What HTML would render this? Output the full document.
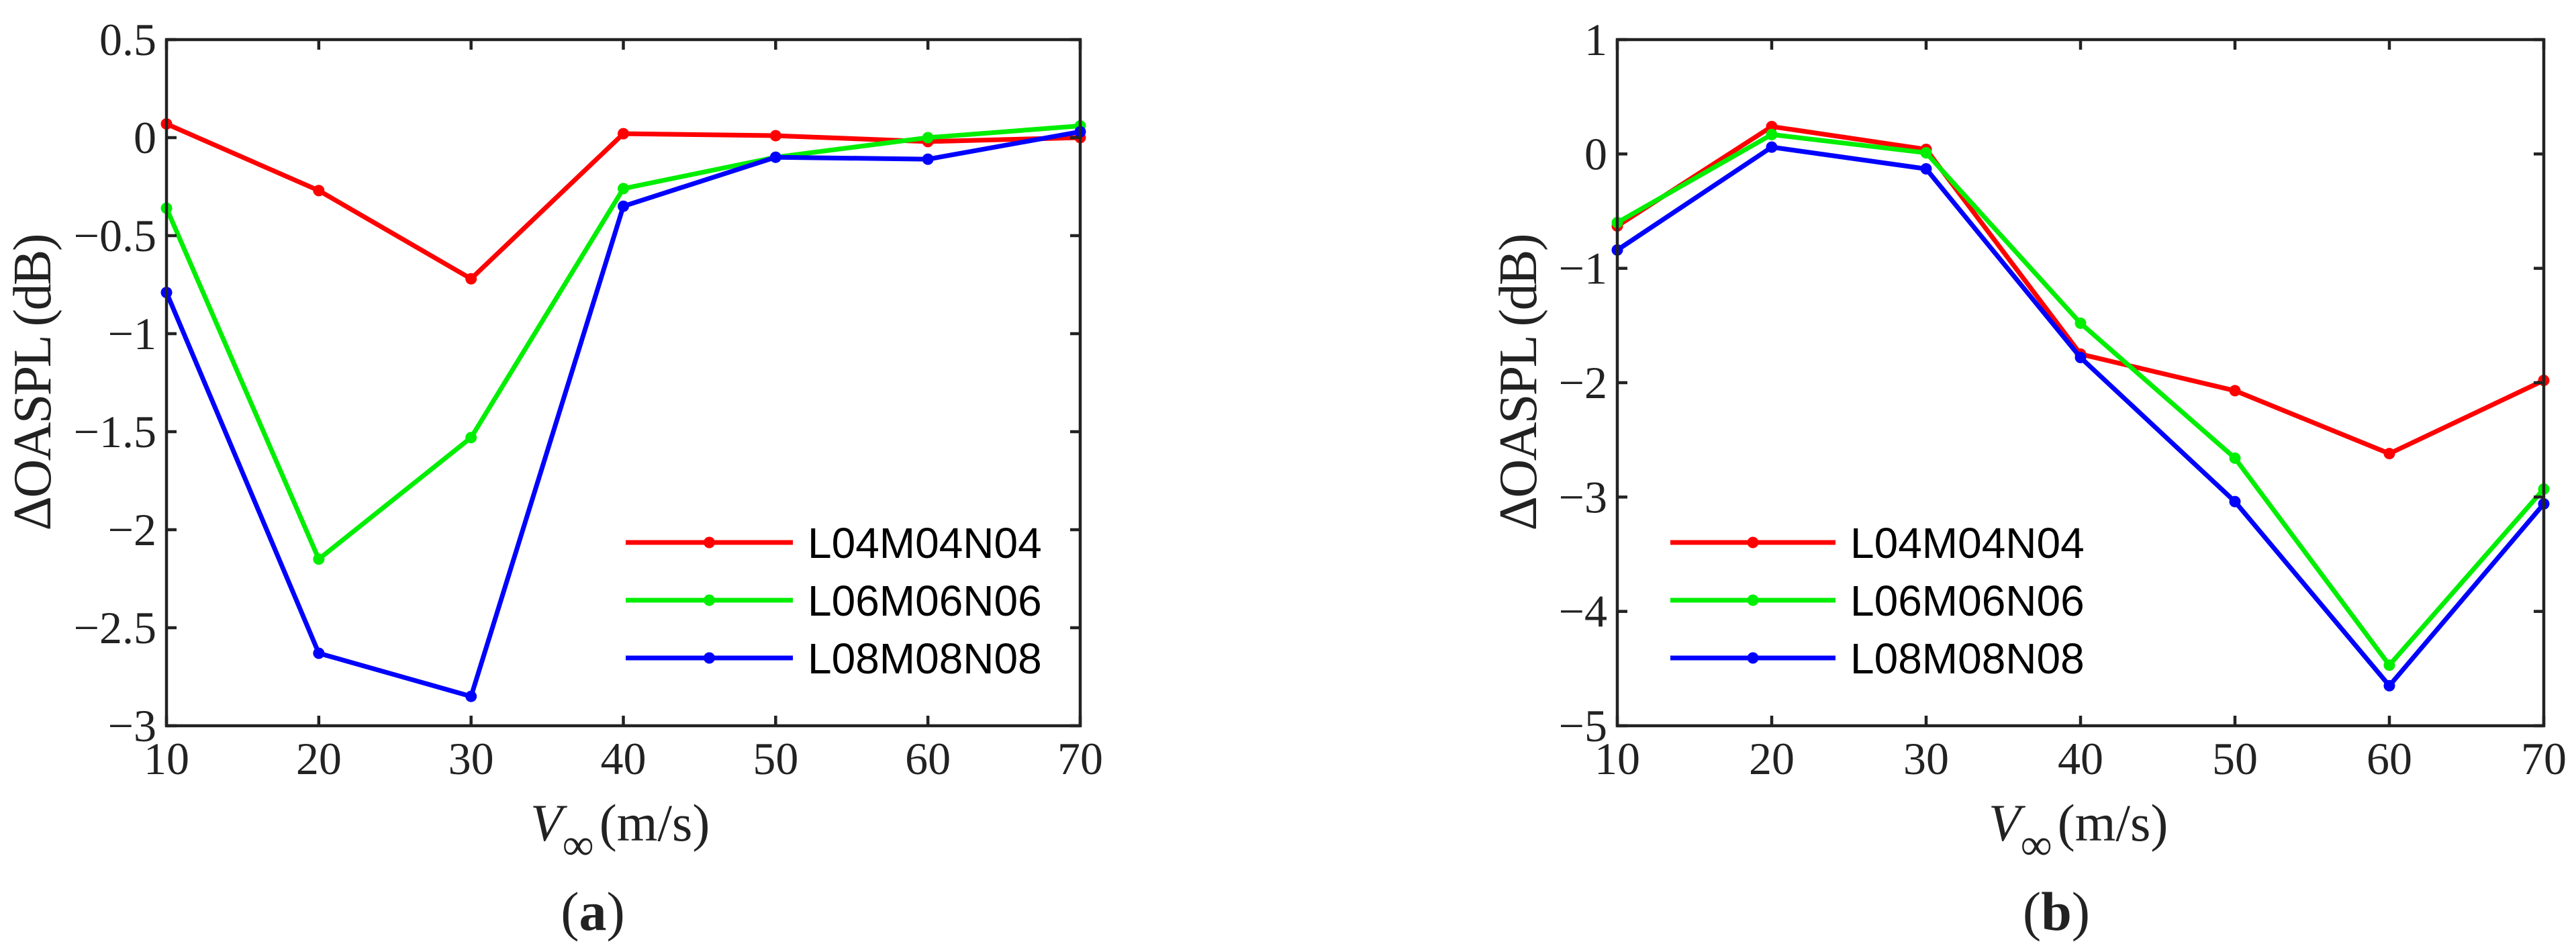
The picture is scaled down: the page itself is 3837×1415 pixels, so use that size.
<!DOCTYPE html>
<html><head><meta charset="utf-8"><style>
html,body{margin:0;padding:0;background:#fff;}
svg{display:block;}
text{fill:#222;}
.tk{font-family:"Liberation Serif",serif;font-size:68px;}
.lg{font-family:"Liberation Sans",sans-serif;font-size:64px;fill:#000;}
</style></head><body>
<svg id="fig" width="3837" height="1415" viewBox="0 0 3837 1415" xmlns="http://www.w3.org/2000/svg"></svg>
<script>
const xCats = [10, 20, 30, 40, 50, 60, 70];
const seriesNames = ["L04M04N04", "L06M06N06", "L08M08N08"];
const seriesColors = ["#ff0000", "#00ee00", "#0000ff"];
const aRed = [0.07, -0.27, -0.72, 0.02, 0.01, -0.02, 0.0];
const aGreen = [-0.36, -2.15, -1.53, -0.26, -0.10, 0.0, 0.06];
const aBlue = [-0.79, -2.63, -2.85, -0.35, -0.10, -0.11, 0.03];
const bRed = [-0.63, 0.24, 0.04, -1.75, -2.07, -2.62, -1.98];
const bGreen = [-0.60, 0.17, 0.01, -1.48, -2.66, -4.47, -2.93];
const bBlue = [-0.84, 0.06, -0.13, -1.78, -3.04, -4.65, -3.06];
const aYTicks = [0.5, 0, -0.5, -1, -1.5, -2, -2.5, -3];
const bYTicks = [1, 0, -1, -2, -3, -4, -5];

const NS = "http://www.w3.org/2000/svg";
const svg = document.getElementById('fig');
function mk(tag, attrs, parent) {
  const e = document.createElementNS(NS, tag);
  for (const k in attrs) e.setAttribute(k, attrs[k]);
  (parent || svg).appendChild(e);
  return e;
}
function fmt(v) { return v < 0 ? "\u2212" + String(Math.abs(v)) : String(v); }

function panel(cfg) {
  const g = mk('g', {});
  
  
  const L = cfg.left, R = cfg.right, T = 59, B = 1081;
  const ymin = cfg.ymin, ymax = cfg.ymax;
  const sx = v => L + (v - xCats[0]) / (xCats[xCats.length - 1] - xCats[0]) * (R - L);
  const sy = v => B - (v - ymin) / (ymax - ymin) * (B - T);
  // series
  cfg.series.forEach((vals, i) => {
    const pts = vals.map((v, j) => sx(xCats[j]) + "," + sy(v)).join(" ");
    const pl = mk('polyline', {points: pts, fill: 'none', stroke: seriesColors[i], 'stroke-width': 7, 'stroke-linejoin': 'round'}, g);
    
    
    vals.forEach((v, j) => {
      const c = mk('circle', {cx: sx(xCats[j]), cy: sy(v), r: 8.5, fill: seriesColors[i]}, g);
      
      
    });
  });
  // axes box
  const box = mk('rect', {x: L, y: T, width: R - L, height: B - T, fill: 'none', stroke: '#222', 'stroke-width': 4.5}, g);
  
  
  // x ticks
  xCats.forEach(v => {
    const x = sx(v);
    mk('line', {x1: x, y1: B, x2: x, y2: B - 15, stroke: '#222', 'stroke-width': 4.5}, g);
    mk('line', {x1: x, y1: T, x2: x, y2: T + 15, stroke: '#222', 'stroke-width': 4.5}, g);
    const t = mk('text', {x: x, y: 1153, 'text-anchor': 'middle', class: 'tk'}, g);
    t.textContent = v;
    
    
  });
  cfg.yTicks.forEach(v => {
    const y = sy(v);
    mk('line', {x1: L, y1: y, x2: L + 15, y2: y, stroke: '#222', 'stroke-width': 4.5}, g);
    mk('line', {x1: R, y1: y, x2: R - 15, y2: y, stroke: '#222', 'stroke-width': 4.5}, g);
    const t = mk('text', {x: L - 15, y: y + 23, 'text-anchor': 'end', class: 'tk'}, g);
    t.textContent = fmt(v);
    
    
  });
  // y title
  const yt = mk('text', {x: 0, y: 0, 'text-anchor': 'middle', transform: `translate(${cfg.ytx},569) rotate(-90)`, style: 'font-family:"Liberation Serif",serif;font-size:80px;', textLength: 443}, g);
  yt.textContent = "\u0394OASPL (dB)";
  
  
  // x title
  const xt = mk('text', {x: cfg.vx, y: 1252, style: 'font-family:"Liberation Serif",serif;font-size:78px;'}, g);
  
  
  const ts1 = mk('tspan', {'font-style': 'italic'}, xt); ts1.textContent = "V";
  const ts2 = mk('tspan', {dy: 28, 'font-size': 66}, xt); ts2.textContent = "\u221E";
  const ts3 = mk('tspan', {dy: -28, dx: 8}, xt); ts3.textContent = "(m/s)";
  // panel label
  const pl = mk('text', {x: cfg.labx, y: 1385, 'text-anchor': 'middle', style: 'font-family:"Liberation Serif",serif;font-size:82px;'}, g);
  
  
  const p1 = mk('tspan', {}, pl); p1.textContent = "(";
  const p2 = mk('tspan', {'font-weight': 'bold'}, pl); p2.textContent = cfg.letter;
  const p3 = mk('tspan', {}, pl); p3.textContent = ")";
  // legend
  const rows = [808, 894, 980];
  seriesNames.forEach((n, i) => {
    const lg = mk('g', {}, g);
    
    
    mk('line', {x1: cfg.lgx1, y1: rows[i], x2: cfg.lgx2, y2: rows[i], stroke: seriesColors[i], 'stroke-width': 7}, lg);
    mk('circle', {cx: (cfg.lgx1 + cfg.lgx2) / 2, cy: rows[i], r: 8.5, fill: seriesColors[i]}, lg);
    const t = mk('text', {x: cfg.lgx2 + 22, y: rows[i] + 23, class: 'lg'}, lg);
    t.textContent = n;
  });
}

panel({name: 'chart-a', left: 248, right: 1609, ymin: -3, ymax: 0.5, yTicks: aYTicks,
  series: [aRed, aGreen, aBlue], ytx: 75, vx: 790, labx: 883, letter: 'a',
  lgx1: 932, lgx2: 1181});
panel({name: 'chart-b', left: 2409, right: 3789, ymin: -5, ymax: 1, yTicks: bYTicks,
  series: [bRed, bGreen, bBlue], ytx: 2288, vx: 2962, labx: 3063, letter: 'b',
  lgx1: 2488, lgx2: 2734});
</script>
</body></html>
